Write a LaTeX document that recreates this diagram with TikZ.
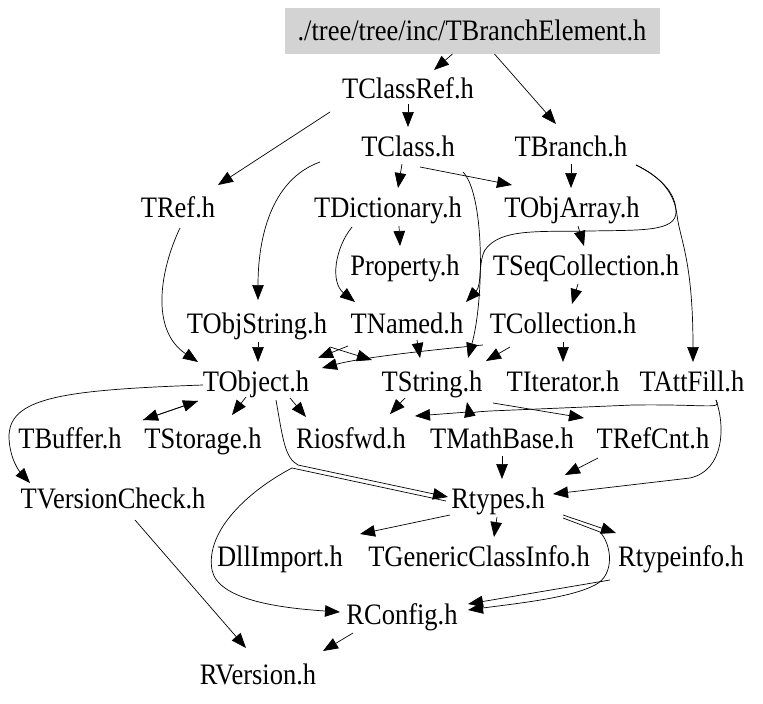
\documentclass[tikz,border=0pt]{standalone}
\usepackage{fontspec}
\setmainfont{Liberation Serif}
\usetikzlibrary{arrows.meta,calc}
\definecolor{boxgray}{RGB}{211,211,211}
\tikzset{
  lbl/.style={inner sep=0pt, text height=22pt, text depth=4pt, font=\fontsize{26.5}{30}\selectfont},
  e/.style={line width=0.7pt, -{Triangle[length=15pt,width=11.5pt]}},
  ln/.style={line width=0.7pt}
}
\newcommand{\tx}[1]{\scalebox{1}[1.12]{#1}}
\begin{document}
\begin{tikzpicture}[x=1pt,y=-1pt]
\useasboundingbox (0,0) rectangle (763,704);
\node[fill=boxgray, minimum width=375pt, minimum height=46pt, inner sep=0pt] (TBE) at (472.5,31) {};
\node[lbl] (TBEtext) at (472,31) {\tx{./tree/tree/inc/TBranchElement.h}};
\node[lbl] (TClassRef) at (408,89) {\tx{TClassRef.h}};
\node[lbl] (TClass) at (408,147) {\tx{TClass.h}};
\node[lbl] (TBranch) at (571,147) {\tx{TBranch.h}};
\node[lbl] (TRef) at (178,208) {\tx{TRef.h}};
\node[lbl] (TDictionary) at (388,208) {\tx{TDictionary.h}};
\node[lbl] (TObjArray) at (572,208) {\tx{TObjArray.h}};
\node[lbl] (Property) at (405,266) {\tx{Property.h}};
\node[lbl] (TSeqCollection) at (586,266) {\tx{TSeqCollection.h}};
\node[lbl] (TObjString) at (257,324) {\tx{TObjString.h}};
\node[lbl] (TNamed) at (407,324) {\tx{TNamed.h}};
\node[lbl] (TCollection) at (563,324) {\tx{TCollection.h}};
\node[lbl] (TObject) at (256,382) {\tx{TObject.h}};
\node[lbl] (TString) at (432,382) {\tx{TString.h}};
\node[lbl] (TIterator) at (563,382) {\tx{TIterator.h}};
\node[lbl] (TAttFill) at (692,382) {\tx{TAttFill.h}};
\node[lbl] (TBuffer) at (70,439) {\tx{TBuffer.h}};
\node[lbl] (TStorage) at (203,439) {\tx{TStorage.h}};
\node[lbl] (Riosfwd) at (351,439) {\tx{Riosfwd.h}};
\node[lbl] (TMathBase) at (502,439) {\tx{TMathBase.h}};
\node[lbl] (TRefCnt) at (653,439) {\tx{TRefCnt.h}};
\node[lbl] (TVersionCheck) at (113,499) {\tx{TVersionCheck.h}};
\node[lbl] (Rtypes) at (498,499) {\tx{Rtypes.h}};
\node[lbl] (DllImport) at (280,557) {\tx{DllImport.h}};
\node[lbl] (TGenericClassInfo) at (479,557) {\tx{TGenericClassInfo.h}};
\node[lbl] (Rtypeinfo) at (681,557) {\tx{Rtypeinfo.h}};
\node[lbl] (RConfig) at (402,615) {\tx{RConfig.h}};
\node[lbl] (RVersion) at (258,675) {\tx{RVersion.h}};
% edges
\draw[e] ($(TBE)+(-20,23)$) -- ($(TClassRef)+(26,-19)$);
\draw[e] ($(TBE)+(22,23)$) -- ($(TBranch)+(-15,-23)$);
\draw[e] ($(TClassRef)+(0,15)$) -- ($(TClass)+(0,-20)$);
\draw[e] ($(TClassRef)+(-78,23)$) -- ($(TRef)+(40,-23)$);
\draw[e] ($(TClass)+(-6,17)$) -- ($(TDictionary)+(10,-20)$);
\draw[e] ($(TClass)+(12,20)$) -- ($(TObjArray)+(-60,-23)$);
\draw[e] ($(TClass)+(-88,15)$) .. controls (270,180) and (258,240) .. ($(TObjString)+(1,-24)$);
\draw[e] ($(TClass)+(55,25)$) .. controls (485,195) and (484,300) .. ($(TString)+(36,-24)$);
\draw[e] ($(TBranch)+(0,17)$) -- ($(TObjArray)+(-1,-20)$);
\draw[e] ($(TBranch)+(65,18)$) .. controls (668,180) and (675,200) .. (677,215) .. controls (680,240) and (693,260) .. ($(TAttFill)+(1,-20)$);
\draw[e] ($(TBranch)+(65,18)$) .. controls (670,182) and (676,200) .. (676,212) .. controls (676,232) and (640,230) .. (590,231) .. controls (540,232) and (500,228) .. (485,250) .. controls (478,262) and (482,285) .. ($(TNamed)+(59,-22)$);
\draw[e] ($(TDictionary)+(11,18)$) -- ($(Property)+(-5,-20)$);
\draw[e] ($(TDictionary)+(-36,19)$) .. controls (335,248) and (330,282) .. ($(TNamed)+(-52,-22)$);
\draw[e] ($(TObjArray)+(6,18)$) -- ($(TSeqCollection)+(-2,-20)$);
\draw[e] ($(TSeqCollection)+(-8,18)$) -- ($(TCollection)+(9,-20)$);
\draw[e] ($(TRef)+(2,20)$) .. controls (160,270) and (150,330) .. ($(TObject)+(-58,-20)$);
\draw[e] ($(TObjString)+(1,18)$) -- ($(TObject)+(2,-20)$);
\draw[e] ($(TObjString)+(73,23)$) -- ($(TString)+(-60,-22)$);
\draw[e] ($(TNamed)+(-59,22)$) -- ($(TObject)+(62,-24)$);
\draw[e] ($(TNamed)+(10,16)$) -- ($(TString)+(-12,-24)$);
\draw[e] ($(TCollection)+(-80,21)$) .. controls (420,351) and (360,358) .. ($(TObject)+(66,-14)$);
\draw[e] ($(TCollection)+(-53,23)$) -- ($(TString)+(54,-21)$);
\draw[e] ($(TCollection)+(0,18)$) -- ($(TIterator)+(0,-20)$);
\draw[e] ($(TObject)+(-58,19)$) -- ($(TBuffer)+(73,-19)$);
\draw[e] ($(TBuffer)+(73,-19)$) -- ($(TObject)+(-58,19)$);
\draw[e] ($(TObject)+(-10,15)$) -- ($(TStorage)+(29,-24)$);
\draw[e] ($(TObject)+(34,16)$) -- ($(Riosfwd)+(-45,-22)$);
\draw[e] ($(TObject)+(-53,3)$) .. controls (60,390) and (8,398) .. (9,438) .. controls (10,460) and (20,472) .. ($(TVersionCheck)+(-83,-16)$);
\draw[e] ($(TObject)+(20,18)$) .. controls (283,440) and (285,458) .. (298,465) -- ($(Rtypes)+(-50,-2)$);
\draw[e] ($(Rtypes)+(-52,2)$) -- (292,468) .. controls (250,490) and (205,530) .. (212,570) .. controls (218,600) and (280,608) .. ($(RConfig)+(-62,-3)$);
\draw[e] ($(TString)+(-27,16)$) -- ($(Riosfwd)+(39,-25)$);
\draw[e] ($(TString)+(61,21)$) -- ($(TRefCnt)+(-69,-21)$);
\draw[e] ($(TAttFill)+(24,18)$) .. controls (725,425) and (725,470) .. (690,478) -- ($(Rtypes)+(55,-5)$);
\draw[e] ($(TAttFill)+(24,18)$) .. controls (722,410) and (710,404) .. (633,405) -- (490,411) .. controls (475,412) and (469,412) .. ($(TString)+(35,20)$);
\draw[e] ($(TMathBase)+(-34,-27)$) -- ($(Riosfwd)+(64,-23)$);
\draw[e] ($(TMathBase)+(0,17)$) -- ($(Rtypes)+(4,-20)$);
\draw[e] ($(TRefCnt)+(-55,19)$) -- ($(Rtypes)+(67,-24)$);
\draw[e] ($(TVersionCheck)+(22,21)$) -- ($(RVersion)+(-12,-27)$);
\draw[e] ($(Rtypes)+(-48,16)$) -- ($(DllImport)+(80,-23)$);
\draw[e] ($(Rtypes)+(-1,18)$) -- ($(TGenericClassInfo)+(15,-20)$);
\draw[e] ($(Rtypes)+(65,16)$) -- ($(Rtypeinfo)+(-65,-24)$);
\draw[e] ($(Rtypes)+(65,19)$) -- (600,532) .. controls (612,545) and (615,575) .. (595,585) .. controls (570,598) and (520,603) .. ($(RConfig)+(66,-5)$);
\draw[e] ($(Rtypeinfo)+(-71,23)$) -- ($(RConfig)+(66,-11)$);
\draw[e] ($(RConfig)+(-49,18)$) -- ($(RVersion)+(65,-24)$);
\end{tikzpicture}
\end{document}
